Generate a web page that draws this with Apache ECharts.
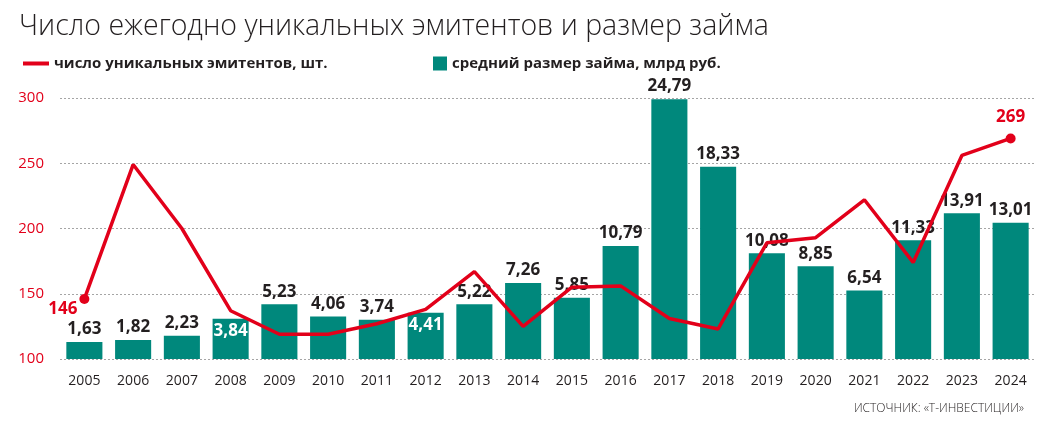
<!DOCTYPE html>
<html>
<head>
<meta charset="utf-8">
<script src="https://cdn.jsdelivr.net/npm/echarts@6/dist/echarts.min.js"></script>
<style>
    html, body { margin: 0; padding: 0; background: #fff; }
    #chart { width: 1051px; height: 438px; }
</style>
</head>
<body>
<div id="chart"></div>
<script>
    // годы
    const years = ['2005', '2006', '2007', '2008', '2009', '2010', '2011', '2012', '2013', '2014',
        '2015', '2016', '2017', '2018', '2019', '2020', '2021', '2022', '2023', '2024']
    // средний размер займа, млрд руб.
    const loanSize = [1.63, 1.82, 2.23, 3.84, 5.23, 4.06, 3.74, 4.41, 5.22, 7.26,
        5.85, 10.79, 24.79, 18.33, 10.08, 8.85, 6.54, 11.33, 13.91, 13.01]
    // число уникальных эмитентов, шт.
    const issuers = [146, 249, 200, 137, 119, 119, 127, 138, 167, 125,
        155, 156, 131, 123, 189, 193, 222, 174, 256, 269]
    // подписи внутри столбцов
    const insideLabels = ['2008', '2012']
    const leftTicks = [100, 150, 200, 250, 300]

    const red = '#e2001a'
    const teal = '#00887c'
    const dark = '#231f20'

    let myChart = echarts.init(document.getElementById('chart'))

    const barData = loanSize.map((v, i) => {
        if (insideLabels.includes(years[i])) {
            return {
                value: v,
                label: { position: 'insideTop', color: '#fff', distance: 4 }
            }
        }
        return v
    })

    const lineData = issuers.map((v, i) => {
        if (i === 0) {
            return {
                value: v, symbol: 'circle', symbolSize: 10,
                label: { show: true, position: 'left', offset: [3, 10] }
            }
        }
        if (i === issuers.length - 1) {
            return {
                value: v, symbol: 'circle', symbolSize: 10,
                label: { show: true, position: 'top', distance: 8 }
            }
        }
        return { value: v, symbol: 'none' }
    })

    myChart.setOption({
        animation: false,
        title: [{
            text: 'Число ежегодно уникальных эмитентов и размер займа',
            left: 14,
            top: 7,
            textStyle: { fontFamily: 'Open Sans', fontWeight: 300, fontSize: 28.5, color: dark }
        }, {
            text: 'ИСТОЧНИК: «Т-ИНВЕСТИЦИИ»',
            right: 22,
            top: 398,
            textStyle: { fontFamily: 'Open Sans', fontWeight: 300, fontSize: 12, color: dark }
        }],
        legend: [{
            left: 18,
            top: 51,
            data: [{ name: 'число уникальных эмитентов, шт.', icon: 'rect' }],
            itemWidth: 26,
            itemHeight: 4,
            textStyle: { fontFamily: 'Open Sans', fontWeight: 'bold', fontSize: 15, color: dark }
        }, {
            left: 428,
            top: 51,
            data: [{ name: 'средний размер займа, млрд руб.', icon: 'rect' }],
            itemWidth: 14,
            itemHeight: 14,
            textStyle: { fontFamily: 'Open Sans', fontWeight: 'bold', fontSize: 15, color: dark }
        }],
        grid: { left: 60, right: 16, top: 98, bottom: 79 },
        xAxis: {
            type: 'category',
            data: years,
            axisLine: { show: false },
            axisTick: { show: false },
            axisLabel: { fontFamily: 'Open Sans', fontSize: 14, color: dark, margin: 15 }
        },
        yAxis: [{
            type: 'value',
            min: 100,
            max: 300,
            interval: 50,
            axisLine: { show: false },
            axisTick: { show: false },
            axisLabel: {
                fontFamily: 'Open Sans', fontSize: 15, color: red, margin: 16,
                formatter: v => leftTicks.includes(v) ? String(v) : ''
            },
            splitLine: { lineStyle: { color: '#a5a5a5', type: [2, 2], width: 1 } }
        }, {
            type: 'value',
            min: 0,
            max: 24.9,
            show: false,
            splitLine: { show: false }
        }],
        series: [{
            name: 'средний размер займа, млрд руб.',
            type: 'bar',
            yAxisIndex: 1,
            data: barData,
            barCategoryGap: '26%',
            itemStyle: { color: teal },
            label: {
                show: true,
                position: 'top',
                distance: 4,
                fontFamily: 'Open Sans',
                fontWeight: 'bold',
                fontSize: 17,
                color: dark,
                formatter: p => p.value.toFixed(2).replace('.', ',')
            },
            z: 2
        }, {
            name: 'число уникальных эмитентов, шт.',
            type: 'line',
            yAxisIndex: 0,
            data: lineData,
            itemStyle: { color: red },
            lineStyle: { color: red, width: 3.5 },
            label: {
                show: false,
                fontFamily: 'Open Sans',
                fontWeight: 'bold',
                fontSize: 17,
                color: red
            },
            z: 3
        }]
    })
</script>
</body>
</html>
